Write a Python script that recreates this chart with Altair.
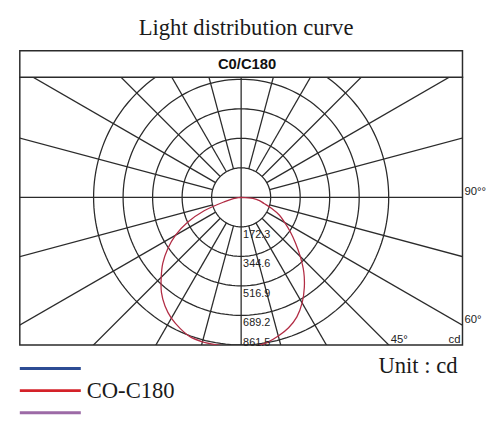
import altair as alt
import pandas as pd

# ---------------- data ----------------
TITLE = "Light distribution curve"
PANEL = "C0/C180"
UNIT = "Unit : cd"
UNIT_SHORT = "cd"

RING_VALUES = [172.3, 344.6, 516.9, 689.2, 861.5]          # cd, one ring each
SPOKE_STEP = 15                                            # degrees between spokes

ANGLES = [0, 5, 10, 15, 20, 25, 30, 35, 40, 45, 50, 55, 60, 65, 70, 75, 80, 85, 90]
C0_CD = [873, 873, 861, 838, 810, 770, 712, 643, 569, 488, 414, 350, 293, 247, 190, 138, 109, 69, 0]
C180_CD = [873, 873, 873, 873, 867, 844, 815, 775, 724, 660, 597, 523, 442, 345, 230, 103, 46, 17, 0]

EDGE_ANGLES = [90, 60, 45]
EDGE_TEXT = ["90°°", "60°", "45°"]

LEGEND_NAMES = ["", "CO-C180", ""]
LEGEND_COLORS = ["#2d4c94", "#d42229", "#9c6aa6"]

# ---------------- layout ----------------
W, H = 450, 272
PX = RING_VALUES[0] / 30.0          # cd per pixel
XMAX = W / 2 * PX
YMIN = -RING_VALUES[-1]
YMAX = YMIN + H * PX
GRID = "#2b2b2b"
SERIF = "Liberation Serif"
SANS = "Liberation Sans"

xs = alt.Scale(domain=[-XMAX, XMAX], nice=False, zero=False)
ys = alt.Scale(domain=[YMIN, YMAX], nice=False, zero=False)


def X(f):
    return alt.X(f, type="quantitative", scale=xs, axis=None)


def Y(f):
    return alt.Y(f, type="quantitative", scale=ys, axis=None)


# rings
ring_rows = [{"r": r, "t": t} for r in RING_VALUES for t in range(0, 361, 2)]
rings = alt.Chart(pd.DataFrame(ring_rows)).transform_calculate(
    x="datum.r*sin(datum.t*PI/180)", y="datum.r*cos(datum.t*PI/180)"
).mark_line(clip=True, color=GRID, strokeWidth=1.3).encode(
    x=X("x"), y=Y("y"), detail="r:N", order="t:Q"
)

# spokes
spoke_df = pd.DataFrame({"a": list(range(0, 360, SPOKE_STEP))})
spokes = alt.Chart(spoke_df).transform_calculate(
    r0=f"datum.a % 90 == 0 ? 0 : {RING_VALUES[0]}",
    x="datum.r0*sin(datum.a*PI/180)", y="datum.r0*cos(datum.a*PI/180)",
    x2="6000*sin(datum.a*PI/180)", y2="6000*cos(datum.a*PI/180)",
).mark_rule(clip=True, color=GRID, strokeWidth=1.3).encode(
    x=X("x"), y=Y("y"), x2="x2:Q", y2="y2:Q"
)

# light distribution curve
curve_rows = [{"s": -a, "cd": v} for a, v in zip(ANGLES, C180_CD)] + \
             [{"s": a, "cd": v} for a, v in zip(ANGLES, C0_CD)]
curve = alt.Chart(pd.DataFrame(curve_rows)).transform_calculate(
    x="datum.cd*sin(datum.s*PI/180)", y="-datum.cd*cos(datum.s*PI/180)"
).mark_line(clip=True, color="#b22d45", strokeWidth=1.3, interpolate="catmull-rom").encode(
    x=X("x"), y=Y("y"), order="s:Q"
)

# ring value labels
ring_labels = alt.Chart(pd.DataFrame({"r": RING_VALUES})).transform_calculate(
    x="0", y=f"max(-datum.r - {8 * PX}, {YMIN + 1.5 * PX})"
).mark_text(align="left", baseline="middle", dx=2, font=SANS, fontSize=11, color="#222").encode(
    x=X("x"), y=Y("y"), text=alt.Text("r:Q", format=".1f")
)

# angle labels at the frame
edge_labels = alt.Chart(pd.DataFrame({"a": EDGE_ANGLES, "txt": EDGE_TEXT})).transform_calculate(
    t=f"min({XMAX}/sin(datum.a*PI/180), {-YMIN}/cos(datum.a*PI/180))",
    x="datum.t*sin(datum.a*PI/180)", y="-datum.t*cos(datum.a*PI/180)",
).mark_text(align="left", baseline="alphabetic", dx=2, dy=-2, font=SANS, fontSize=11.5, color="#222").encode(
    x=X("x"), y=Y("y"), text="txt:N"
)

one = alt.Data(values=[{"k": 0}])

cd_label = alt.Chart(one).mark_text(
    align="right", baseline="alphabetic", font=SANS, fontSize=11.5, color="#222"
).encode(x=alt.value(W - 2), y=alt.value(H - 2), text=alt.value(UNIT_SHORT))

header_box = alt.Chart(one).mark_rect(fill="white", stroke=GRID, strokeWidth=1.5).encode(
    x=alt.value(0), x2=alt.value(W), y=alt.value(-27), y2=alt.value(0)
)
header_text = alt.Chart(one).mark_text(
    font=SANS, fontSize=15, fontWeight="bold", color="#111", baseline="middle", align="center"
).encode(x=alt.value(231), y=alt.value(-13.5), text=alt.value(PANEL))

title = alt.Chart(one).mark_text(
    font=SERIF, fontSize=23, color="#1a1a1a", baseline="alphabetic", align="center"
).encode(x=alt.value(230), y=alt.value(-43), text=alt.value(TITLE))

legend_df = pd.DataFrame({"i": [0, 1, 2], "name": LEGEND_NAMES, "c": LEGEND_COLORS})
legend_lines = alt.Chart(legend_df).transform_calculate(
    py=f"{H + 24} + datum.i*22.5"
).mark_rule(strokeWidth=3).encode(
    x=alt.value(0), x2=alt.value(62), y=alt.Y("py:Q", scale=None), color=alt.Color("c:N", scale=None)
)
legend_text = alt.Chart(legend_df).transform_calculate(
    py=f"{H + 24} + datum.i*22.5"
).mark_text(align="left", baseline="middle", font=SERIF, fontSize=23, color="#1a1a1a").encode(
    x=alt.value(68), y=alt.Y("py:Q", scale=None), text="name:N"
)

unit = alt.Chart(one).mark_text(
    align="right", baseline="middle", font=SERIF, fontSize=23, color="#1a1a1a"
).encode(x=alt.value(445), y=alt.value(H + 22), text=alt.value(UNIT))

chart = alt.layer(
    rings, spokes, curve, ring_labels, edge_labels, cd_label,
    header_box, header_text, title, legend_lines, legend_text, unit
).properties(
    width=W, height=H,
    autosize=alt.AutoSizeParams(type="none"),
    padding={"left": 12, "top": 67, "right": 30, "bottom": 80},
    background="white",
).configure_view(stroke=GRID, strokeWidth=1.5)

chart.save("out.html", embed_options={"renderer": "svg", "actions": False})
